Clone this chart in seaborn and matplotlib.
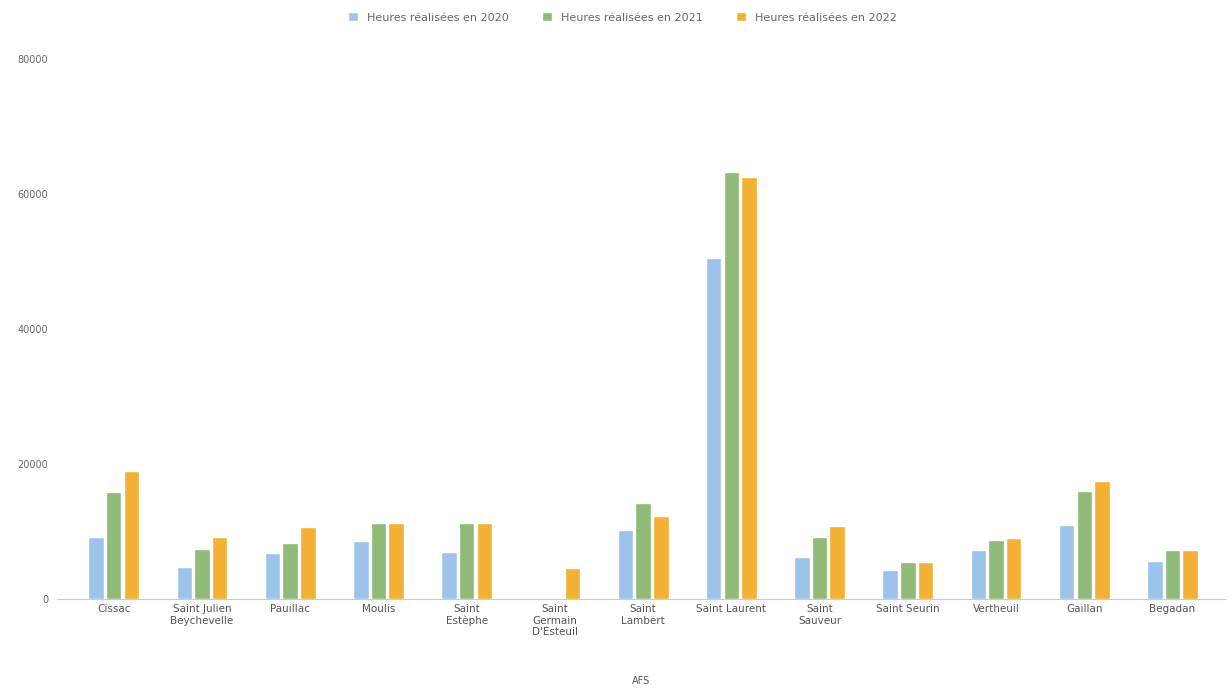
import pandas as pd
import matplotlib.pyplot as plt
import seaborn as sns

# Heures réalisées par commune (lecture approximative du graphique)
communes = ['Cissac', 'Saint Julien\nBeychevelle', 'Pauillac', 'Moulis', 'Saint\nEstèphe',
            'Saint\nGermain\nD\'Esteuil', 'Saint\nLambert', 'Saint Laurent', 'Saint\nSauveur',
            'Saint Seurin', 'Vertheuil', 'Gaillan', 'Begadan']
heures_2020 = [9200, 4700, 6800, 8600, 7000, 0, 10200, 50600, 6200, 4300, 7300, 11000, 5600]
heures_2021 = [15800, 7400, 8300, 11200, 11200, 0, 14200, 63300, 9200, 5400, 8700, 16000, 7300]
heures_2022 = [19000, 9200, 10700, 11300, 11200, 4600, 12300, 62600, 10800, 5400, 9000, 17500, 7300]
series = ['Heures réalisées en 2020', 'Heures réalisées en 2021', 'Heures réalisées en 2022']
y_ticks = [0, 20000, 40000, 60000, 80000]

df = pd.DataFrame({'AFS': communes, series[0]: heures_2020,
                   series[1]: heures_2021, series[2]: heures_2022})
long_df = df.melt(id_vars='AFS', var_name='serie', value_name='heures')

sns.set_style('white')
fig = plt.figure(figsize=(12.32, 6.89), dpi=100)
ax = fig.add_axes([0.046, 0.131, 0.948, 0.783])

palette = ['#9ec3ea', '#8fba78', '#f2b134']
sns.barplot(data=long_df, x='AFS', y='heures', hue='serie', palette=palette,
            width=0.6, gap=0.12, ax=ax, saturation=1)

ax.set_ylim(0, 80000)
ax.set_yticks(y_ticks)
ax.set_yticklabels([str(t) for t in y_ticks], fontsize=7, color='#666666')
ax.tick_params(axis='x', labelsize=7.5, labelcolor='#555555', length=0, pad=4)
ax.tick_params(axis='y', length=0, pad=6)
ax.set_xlim(-0.646, len(communes) - 0.41)
ax.set_xlabel('AFS', fontsize=7, color='#555555', labelpad=28)
ax.set_ylabel('')
for s in ['top', 'right', 'left']:
    ax.spines[s].set_visible(False)
ax.spines['bottom'].set_color('#cccccc')

handles, labels = ax.get_legend_handles_labels()
ax.legend_.remove()
fig.legend(handles, labels, loc='upper center', bbox_to_anchor=(0.505, 0.997), ncol=3,
           frameon=False, fontsize=8, handlelength=0.9, handleheight=0.9,
           columnspacing=3.0, labelcolor='#666666')

fig.savefig('out.png', dpi=100)
